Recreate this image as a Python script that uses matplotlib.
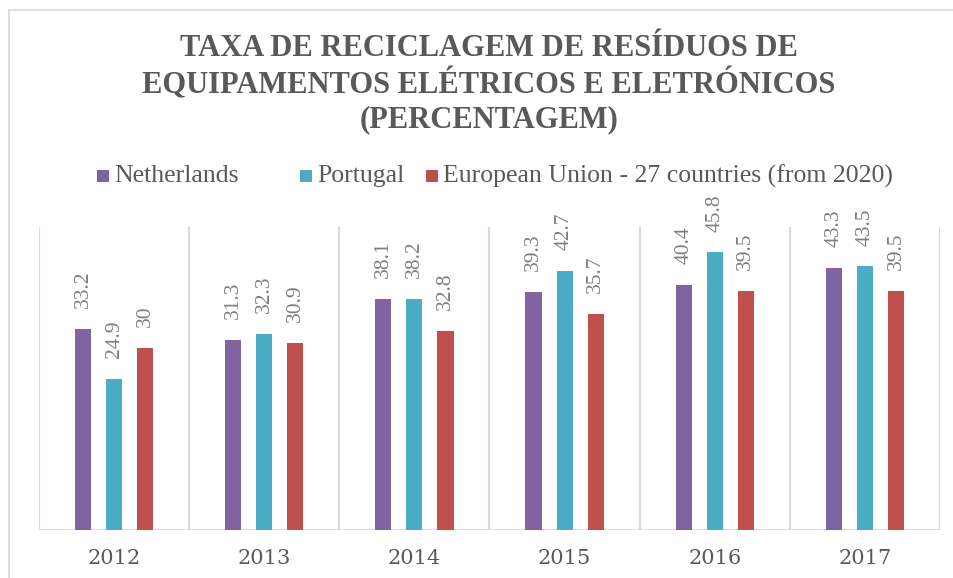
import numpy as np
import matplotlib
matplotlib.use("Agg")
import matplotlib.pyplot as plt
from matplotlib.patches import Rectangle
from matplotlib.lines import Line2D

years = ["2012", "2013", "2014", "2015", "2016", "2017"]
netherlands = [33.2, 31.3, 38.1, 39.3, 40.4, 43.3]
portugal = [24.9, 32.3, 38.2, 42.7, 45.8, 43.5]
eu27 = [30, 30.9, 32.8, 35.7, 39.5, 39.5]
series_names = ["Netherlands", "Portugal", "European Union - 27 countries (from 2020)"]
colors = ["#8064A2", "#4BACC6", "#C0504D"]

title = "TAXA DE RECICLAGEM DE RESÍDUOS DE\nEQUIPAMENTOS ELÉTRICOS E ELETRÓNICOS\n(PERCENTAGEM)"

W, H = 954, 578
fig = plt.figure(figsize=(W / 100, H / 100), dpi=100)
grid_c = "#D9D9D9"
text_c = "#595959"
label_c = "#7F7F7F"

# chart area border (only left/top visible in the picture)
fig.add_artist(Line2D([9 / W, 9 / W], [0, 1 - 10 / H], color=grid_c, lw=1.2))
fig.add_artist(Line2D([9 / W, 1], [1 - 10 / H, 1 - 10 / H], color=grid_c, lw=1.2))

ax = fig.add_axes([39 / W, (H - 530) / H, 901 / W, 303 / H])

x = np.arange(len(years))
width = 0.107
step = 0.207
data = [netherlands, portugal, eu27]
for i, (vals, c) in enumerate(zip(data, colors)):
    pos = x + (i - 1) * step
    bars = ax.bar(pos, vals, width=width, color=c, zorder=3)
    for b, v in zip(bars, vals):
        ax.annotate(f"{v:g}", (b.get_x() + b.get_width() / 2, b.get_height()),
                    xytext=(0, 15), textcoords="offset points",
                    rotation=90, ha="center", va="bottom",
                    fontsize=15.5, color=label_c, family="Liberation Serif")

ax.set_xlim(-0.5, len(years) - 0.5)
ax.set_ylim(0, 50)
for b in np.arange(-0.5, len(years), 1.0):
    ax.axvline(b, color=grid_c, lw=1.5, zorder=1)
ax.axhline(0, color=grid_c, lw=2, zorder=2)

for s in ax.spines.values():
    s.set_visible(False)
ax.set_yticks([])
ax.set_xticks(x)
ax.set_xticklabels(years, fontsize=15, color=text_c, family="DejaVu Serif")
ax.tick_params(axis="x", length=0, pad=14)

fig.text(489 / W, 1 - 84 / H, title, ha="center", va="center",
         fontsize=22, fontweight="bold", color=text_c, family="Liberation Serif",
         linespacing=1.2)

# legend, drawn by hand so the uneven gaps of the original are kept
leg_x = [97, 300, 426]
for lx, name, c in zip(leg_x, series_names, colors):
    fig.add_artist(Rectangle((lx / W, 1 - 182 / H), 12 / W, 12 / H,
                             facecolor=c, edgecolor="none", transform=fig.transFigure))
    fig.text((lx + 17) / W, 1 - 176 / H, name, ha="left", va="center",
             fontsize=18.5, color=text_c, family="Liberation Serif")

fig.savefig("out.png", dpi=100)
